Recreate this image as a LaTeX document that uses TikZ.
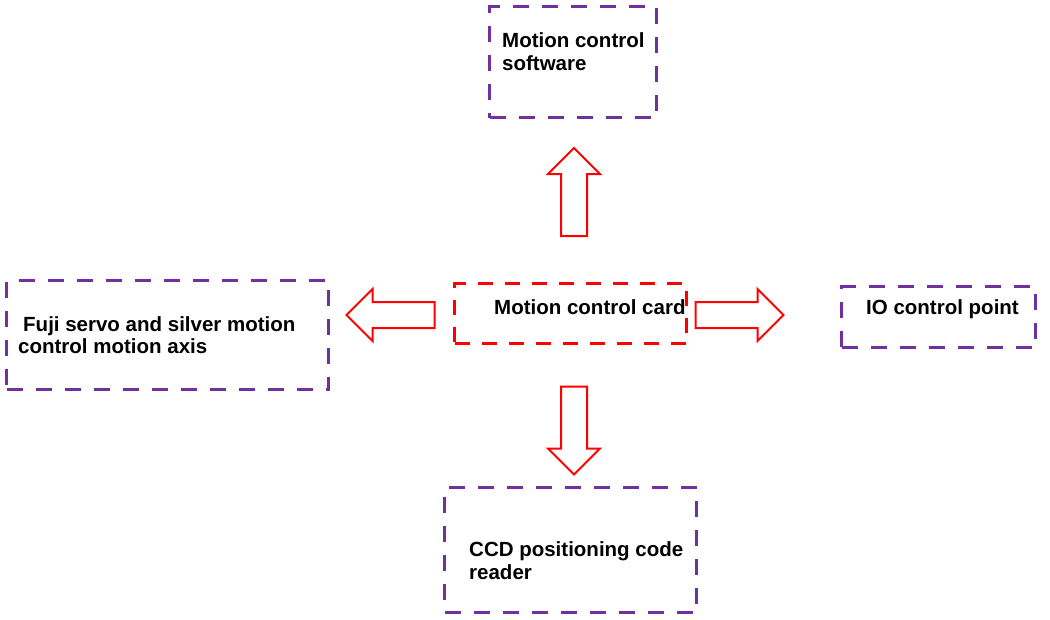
\documentclass[tikz,border=0pt]{standalone}
\usepackage{fontspec}
\setmainfont{Liberation Sans}
\usepackage{xcolor}
\definecolor{boxpurple}{HTML}{7030A0}
\definecolor{cardred}{HTML}{FF0000}
\usetikzlibrary{shapes.arrows, positioning}

\begin{document}
\begin{tikzpicture}[x=1pt, y=-1pt,
    font=\fontsize{20.5}{22.5}\selectfont\bfseries,
    unitbox/.style={draw=boxpurple, line width=3pt, dash pattern=on 16pt off 13pt,
                    anchor=north west, inner sep=0pt},
    cardbox/.style={draw=cardred, line width=3pt, dash pattern=on 15pt off 12pt,
                    anchor=north west, inner sep=0pt},
    boxtext/.style={anchor=north west, inner sep=0pt, align=left},
    blockarrow/.style={single arrow, draw=cardred, fill=white, line width=2pt,
                       inner sep=0pt, inner ysep=12pt, minimum height=88pt,
                       single arrow head extend=13pt}]

  \useasboundingbox (0,0) rectangle (1050,619);

  % boxes
  \node[unitbox, minimum width=167pt, minimum height=111pt] (software) at (488,5) {};
  \node[cardbox, minimum width=232pt, minimum height=60pt] (card) at (453,282) {};
  \node[unitbox, minimum width=322pt, minimum height=109pt] (axis) at (5,279) {};
  \node[unitbox, minimum width=194pt, minimum height=61pt] (io) at (840,285) {};
  \node[unitbox, minimum width=252pt, minimum height=125pt] (ccd) at (443,486) {};

  % texts
  \node[boxtext, font=\fontsize{20.5}{23.5}\selectfont\bfseries] (softwaretext) at (502,32) {Motion control\\software};
  \node[boxtext] (cardtext) at (494,299) {Motion control card};
  \node[boxtext] (axistext) at (18,316) {\hspace*{5pt}Fuji servo and silver motion\\control motion axis};
  \node[boxtext] (iotext) at (866,299) {IO control point};
  \node[boxtext] (ccdtext) at (469,541.5) {CCD positioning code\\reader};

  % arrows
  \node[blockarrow, rotate=90] (toup) at (574,198.5) {};
  \node[blockarrow, rotate=-90] (todown) at (574,424) {};
  \node[blockarrow, rotate=180] (toleft) at (397,315) {};
  \node[blockarrow] (toright) at (733,315) {};
\end{tikzpicture}
\end{document}
